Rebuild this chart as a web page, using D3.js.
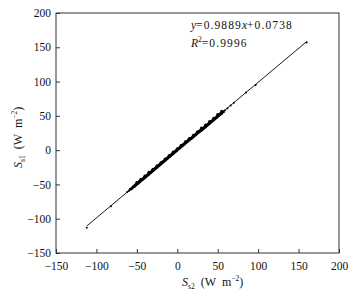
<!DOCTYPE html>
<html>
<head>
<meta charset="utf-8">
<script src="https://cdn.jsdelivr.net/npm/d3@7"></script>
<style>
  body { margin: 0; background: #fff; }
  svg text { font-family: "Liberation Serif", "DejaVu Serif", serif; fill: #111; }
</style>
</head>
<body>
<svg id="chart"></svg>
<script>
// values
let xTicks = [-150, -100, -50, 0, 50, 100, 150, 200];
let yTicks = [-150, -100, -50, 0, 50, 100, 150, 200];

let s2 = [-112, -82, -62, -60, -58, -56, -54, -53, -52, -51, -50, -49, -48, -47, -46, -45,
  -44, -43, -42, -41, -40, -39, -38, -37, -36, -35, -34, -33, -32, -31, -30, -29, -28, -27,
  -26, -25, -24, -23, -22, -21, -20, -19, -18, -17, -16, -15, -14, -13, -12, -11, -10, -9,
  -8, -7, -6, -5, -4, -3, -2, -1, 0, 1, 2, 3, 4, 5, 6, 7, 8, 9, 10, 11, 12, 13, 14, 15, 16,
  17, 18, 19, 20, 21, 22, 23, 24, 25, 26, 27, 28, 29, 30, 31, 32, 33, 34, 35, 36, 37, 38,
  39, 40, 41, 42, 43, 44, 45, 46, 47, 48, 49, 50, 51, 52, 53, 54, 55, 57, 59, 62, 66, 70,
  85, 97, 160];
let s1 = [-113, -82, -61, -59.5, -57, -55.5, -53, -52.5, -51, -50.5, -49, -48.5, -47.5, -46,
  -45.5, -44, -43.5, -42.5, -41.5, -40.5, -39.5, -38.5, -37.5, -36.5, -35.5, -34.5, -33.5,
  -32.5, -31.5, -30.5, -29.5, -28.5, -27.5, -26.5, -25.5, -24.5, -23.5, -22.5, -21.5, -20.5,
  -19.5, -18.5, -17.5, -16.5, -15.5, -14.5, -13.5, -12.5, -11.5, -10.5, -9.5, -8.5, -7.5,
  -6.5, -5.5, -4.5, -3.5, -2.5, -1.5, -0.5, 0.5, 1.5, 2.5, 3.5, 4.5, 5.5, 6.5, 7.5, 8.5, 9.5,
  10.5, 11.5, 12.5, 13.5, 14.5, 15.5, 16.5, 17, 18, 19, 20, 21, 22, 23, 24, 25, 26, 27, 28,
  28.5, 29.5, 30.5, 31.5, 32.5, 33.5, 34.5, 35.5, 36.5, 37.5, 38.5, 39.5, 40.5, 41.5, 42.5,
  43.5, 44.5, 45.5, 46.5, 47.5, 48.5, 49.5, 50.5, 51.5, 52.5, 53.5, 54, 56, 58, 61, 65, 69,
  84, 95, 157];
// scatter around the band
let spread2 = [-50, -45, -40, -35, -30, -25, -20, -15, -10, -5, 0, 5, 10, 15, 20, 25, 30, 35,
  40, 45, 50, 55];
let spread1 = [-47.5, -42.5, -38, -32.5, -28, -23, -18, -13, -8, -3, 2, 7, 12, 17, 21.5, 26.5,
  32, 36.5, 41.5, 46.5, 52, 56.5];

let slope = 0.9889, intercept = 0.0738;
let fitRange = [-112, 160];

let width = 360, height = 296;
let margin = { top: 13, right: 21, bottom: 43, left: 56 };

let svg = d3.select("#chart").attr("width", width).attr("height", height);

let x = d3.scaleLinear().domain([-150, 200]).range([margin.left, width - margin.right]);
let y = d3.scaleLinear().domain([-150, 200]).range([height - margin.bottom, margin.top]);

// frame
svg.append("rect")
  .attr("x", x(-150)).attr("y", y(200))
  .attr("width", x(200) - x(-150)).attr("height", y(-150) - y(200))
  .attr("fill", "none").attr("stroke", "#333").attr("stroke-width", 1);

let xAxis = svg.append("g")
  .attr("transform", `translate(0,${y(-150)})`)
  .call(d3.axisBottom(x).tickValues(xTicks).tickSizeInner(-4).tickSizeOuter(0)
    .tickFormat(d => d < 0 ? "\u2212" + Math.abs(d) : d));
xAxis.select(".domain").remove();
xAxis.selectAll("line").attr("stroke", "#333");
xAxis.selectAll("text").attr("y", 9).attr("font-size", 11.5)
  .style("font-family", "Liberation Serif, serif");

let yAxis = svg.append("g")
  .attr("transform", `translate(${x(-150)},0)`)
  .call(d3.axisLeft(y).tickValues(yTicks).tickSizeInner(-4).tickSizeOuter(0)
    .tickFormat(d => d < 0 ? "\u2212" + Math.abs(d) : d));
yAxis.select(".domain").remove();
yAxis.selectAll("line").attr("stroke", "#333");
yAxis.selectAll("text").attr("x", -5).attr("font-size", 11.5)
  .style("font-family", "Liberation Serif, serif");

// fit line
svg.append("line")
  .attr("x1", x(fitRange[0])).attr("y1", y(slope * fitRange[0] + intercept))
  .attr("x2", x(fitRange[1])).attr("y2", y(slope * fitRange[1] + intercept))
  .attr("stroke", "#000").attr("stroke-width", 0.9);

let pts = s2.map((d, i) => [d, s1[i]]).concat(spread2.map((d, i) => [d, spread1[i]]));

svg.append("g").selectAll("circle")
  .data(pts)
  .enter()
  .append("circle")
  .attr("cx", d => x(d[0]))
  .attr("cy", d => y(d[1]))
  .attr("r", d => Math.abs(d[0]) > 58 ? 1 : 1.6)
  .attr("fill", "#000");

// equation
let eq = svg.append("text").attr("x", 191).attr("y", 29).attr("font-size", 11.5);
eq.append("tspan").attr("font-style", "italic").text("y");
eq.append("tspan").attr("letter-spacing", 1.1).text("=0.9889");
eq.append("tspan").attr("font-style", "italic").text("x");
eq.append("tspan").attr("letter-spacing", 1.1).text("+0.0738");

let r2 = svg.append("text").attr("x", 191).attr("y", 47).attr("font-size", 11.5);
r2.append("tspan").attr("font-style", "italic").text("R");
r2.append("tspan").attr("font-size", 7.5).attr("dy", -5).text("2");
r2.append("tspan").attr("dy", 5).attr("letter-spacing", 1.1).text("=0.9996");

// axis titles
let xt = svg.append("text").attr("x", 182).attr("y", 286).attr("font-size", 12);
xt.append("tspan").attr("font-style", "italic").text("S");
xt.append("tspan").attr("font-size", 7.5).attr("dy", 3).text("s2");
xt.append("tspan").attr("dy", -3).text("\u2002(W\u2002m");
xt.append("tspan").attr("font-size", 7.5).attr("dy", -5).text("\u22122");
xt.append("tspan").attr("dy", 5).text(")");

let yt = svg.append("text")
  .attr("transform", "translate(22,168) rotate(-90)")
  .attr("font-size", 12);
yt.append("tspan").attr("font-style", "italic").text("S");
yt.append("tspan").attr("font-size", 7.5).attr("dy", 3).text("s1");
yt.append("tspan").attr("dy", -3).text("\u2002(W\u2002m");
yt.append("tspan").attr("font-size", 7.5).attr("dy", -5).text("\u22122");
yt.append("tspan").attr("dy", 5).text(")");
</script>
</body>
</html>
